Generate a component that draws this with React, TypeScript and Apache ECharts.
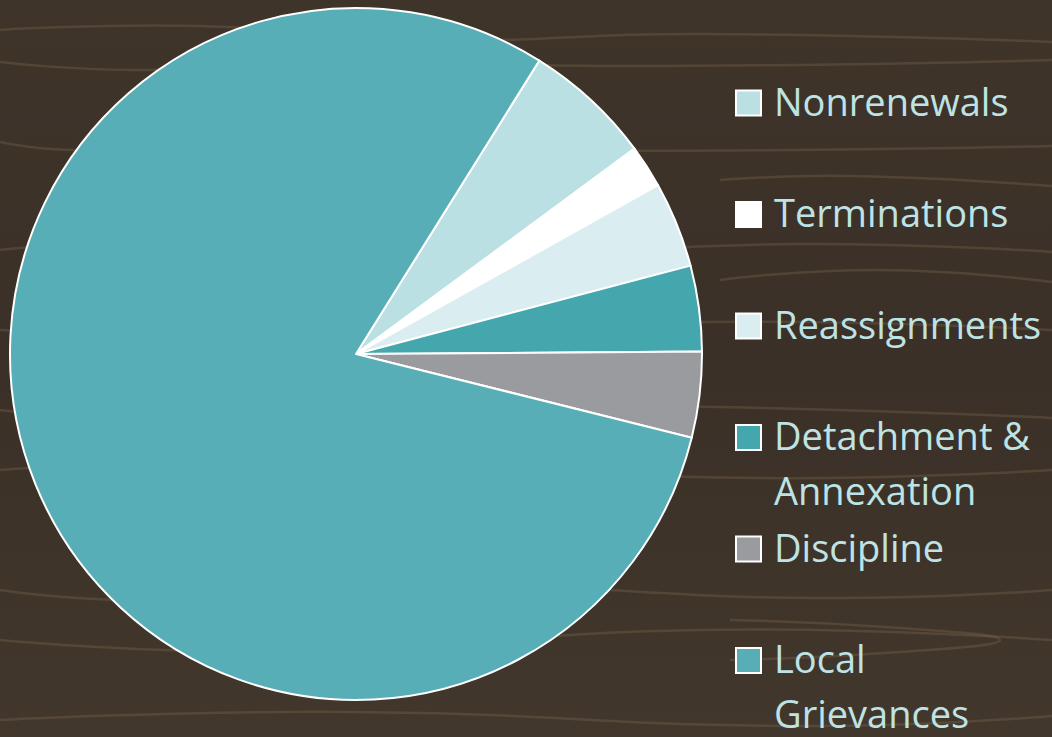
import React, { useEffect, useRef } from "react";
import * as echarts from "echarts";

const categories = ["Nonrenewals", "Terminations", "Reassignments", "Detachment & Annexation", "Discipline", "Local Grievances"];
const legendLines = [["Nonrenewals"], ["Terminations"], ["Reassignments"], ["Detachment &", "Annexation"], ["Discipline"], ["Local", "Grievances"]];
const values = [6, 2, 4, 4, 4, 80];
const colors = ["#BBE0E3", "#FFFFFF", "#DAEEF1", "#45A7AE", "#9A9B9F", "#58AEB6"];

const grainLines: number[][][] = [
  [[0, 30], [200, 26], [420, 40], [700, 34], [1052, 42]],
  [[0, 62], [150, 70], [300, 58], [600, 66], [1052, 60]],
  [[0, 142], [80, 150], [220, 138], [500, 150], [1052, 146]],
  [[0, 250], [200, 240], [450, 255], [800, 244], [1052, 252]],
  [[0, 330], [300, 338], [700, 322], [1052, 330]],
  [[0, 410], [160, 420], [500, 405], [1052, 418]],
  [[0, 470], [250, 462], [760, 478], [1052, 470]],
  [[0, 590], [140, 600], [420, 585], [820, 598], [1052, 590]],
  [[0, 640], [300, 652], [700, 630], [1052, 640]],
  [[730, 620], [900, 628], [1000, 640], [900, 652], [730, 660]],
  [[0, 720], [350, 712], [800, 726], [1052, 716]],
  [[720, 180], [850, 176], [1052, 186]],
  [[720, 280], [880, 270], [1052, 282]],
];

export default function App() {
  const ref = useRef<HTMLDivElement>(null);
  useEffect(() => {
    const chart = echarts.init(ref.current!, undefined, { renderer: "svg" });
    const legendX = 736;
    const legendY0 = 103;
    const step = 111.5;
    const graphics: any[] = [];
    grainLines.forEach((pts) => {
      graphics.push({
        type: "polyline",
        silent: true,
        z: -10,
        shape: { points: pts, smooth: 0.5 },
        style: { stroke: "rgba(140,118,90,0.28)", lineWidth: 2.5, fill: null },
      });
    });
    categories.forEach((c, i) => {
      const cy = legendY0 + i * step;
      graphics.push({
        type: "rect",
        shape: { x: legendX, y: cy - 12.5, width: 25, height: 25 },
        style: { fill: colors[i], stroke: "#FFFFFF", lineWidth: 2 },
        z: 10,
      });
      graphics.push({
        type: "text",
        x: 774,
        y: cy - 30,
        z: 10,
        style: {
          text: legendLines[i].join("\n"),
          fill: "#BEE3E5",
          font: "38px 'Open Sans', sans-serif",
          lineHeight: 55,
          verticalAlign: "top",
          align: "left",
        },
      });
    });
    chart.setOption({
      animation: false,
      backgroundColor: {
        type: "linear",
        x: 0, y: 0, x2: 0, y2: 1,
        colorStops: [
          { offset: 0, color: "#3F342A" },
          { offset: 0.5, color: "#3B3027" },
          { offset: 1, color: "#42372C" },
        ],
      },
      color: colors,
      graphic: graphics,
      series: [
        {
          type: "pie",
          center: [356, 354],
          radius: 346,
          startAngle: 58,
          clockwise: true,
          label: { show: false },
          labelLine: { show: false },
          emphasis: { disabled: true },
          itemStyle: { borderColor: "#FFFFFF", borderWidth: 2 },
          data: categories.map((c, i) => ({ name: c, value: values[i] })),
        },
      ],
    });
    return () => chart.dispose();
  }, []);
  return <div ref={ref} style={{ position: "absolute", left: 0, top: 0, width: 1052, height: 737 }} />;
}
